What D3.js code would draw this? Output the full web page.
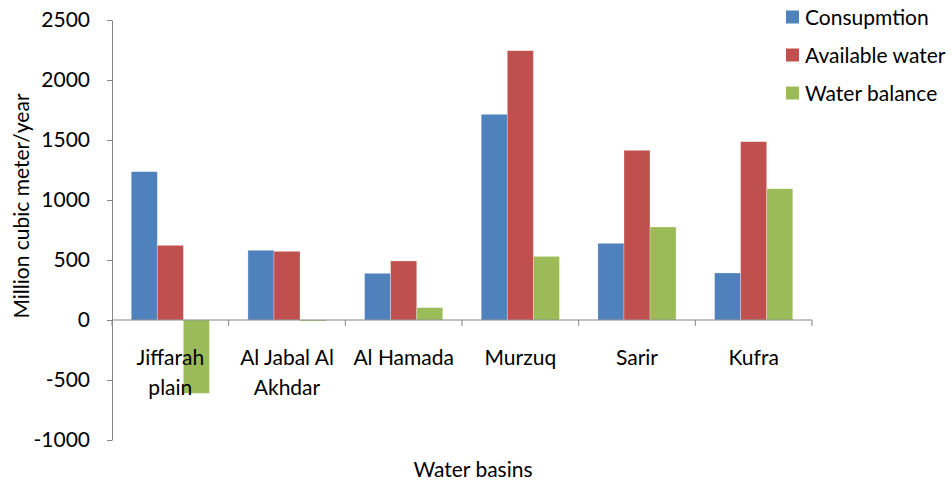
<!DOCTYPE html>
<html>
<head>
<meta charset="utf-8">
<script src="https://cdn.jsdelivr.net/npm/d3@7"></script>
<style>
  body { margin: 0; background: #fff; }
  text { font-family: Lato, "Open Sans", sans-serif; fill: #000; }
</style>
</head>
<body>
<div id="chart"></div>
<script>
const basins = ["Jiffarah plain", "Al Jabal Al Akhdar", "Al Hamada", "Murzuq", "Sarir", "Kufra"]
const basinLines = [["Jiffarah", "plain"], ["Al Jabal Al", "Akhdar"], ["Al Hamada"], ["Murzuq"], ["Sarir"], ["Kufra"]]
const seriesNames = ["Consupmtion", "Available water", "Water balance"]
const consumption = [1236, 581, 389, 1714, 639, 392]
const available = [622, 572, 492, 2244, 1414, 1486]
const balance = [-611, -9, 103, 530, 775, 1094]
const yTicks = [-1000, -500, 0, 500, 1000, 1500, 2000, 2500]
const colors = ["#4F81BD", "#C0504D", "#9BBB59"]

const width = 952
const height = 480
const margin = {top: 20, right: 140, bottom: 40, left: 112}
const fs = "21px"

const svg = d3.select("#chart")
  .append("svg")
  .attr("width", width)
  .attr("height", height)

const x = d3.scaleBand()
  .domain(basins)
  .range([margin.left, 812])

const inner = d3.scaleBand()
  .domain(seriesNames)
  .range([0, x.bandwidth() * 0.67])

const y = d3.scaleLinear()
  .domain([-1000, 2500])
  .range([440, 20])

const series = [consumption, available, balance]

// bars
series.forEach(function(vals, si) {
  svg.append("g")
    .selectAll("rect")
    .data(vals)
    .enter()
    .append("rect")
      .attr("x", function(d, i) { return x(basins[i]) + x.bandwidth() * 0.165 + inner(seriesNames[si]) })
      .attr("y", function(d) { return y(Math.max(0, d)) })
      .attr("width", inner.bandwidth())
      .attr("height", function(d) { return Math.abs(y(d) - y(0)) })
      .attr("fill", colors[si])
      .attr("stroke", "rgba(255,255,255,0.35)")
      .attr("stroke-width", 0.8)
})

// y axis
const yAxis = svg.append("g")
  .attr("transform", "translate(" + margin.left + ",0)")
  .call(d3.axisLeft(y).tickValues(yTicks).tickFormat(function(d) { return String(d) })
    .tickSize(5).tickPadding(17).tickSizeOuter(0))
yAxis.select(".domain").attr("stroke", "#868686")
yAxis.selectAll(".tick line").attr("stroke", "#868686")
yAxis.selectAll(".tick text")
  .style("font-size", fs)
  .style("font-family", "Lato, sans-serif")
  .attr("fill", "#000")

// x axis at zero
const boundaries = basins.map(function(b) { return x(b) }).concat([x.range()[1]])
const xAxis = svg.append("g")
xAxis.append("line")
  .attr("x1", x.range()[0]).attr("x2", x.range()[1])
  .attr("y1", y(0)).attr("y2", y(0))
  .attr("stroke", "#868686")
xAxis.selectAll(".tk")
  .data(boundaries)
  .enter()
  .append("line")
    .attr("x1", function(d) { return d }).attr("x2", function(d) { return d })
    .attr("y1", y(0)).attr("y2", y(0) + 6)
    .attr("stroke", "#868686")

// category labels
basinLines.forEach(function(lines, i) {
  const t = svg.append("text")
    .attr("x", x(basins[i]) + x.bandwidth() / 2)
    .attr("y", 365)
    .style("text-anchor", "middle")
    .style("font-size", fs)
  lines.forEach(function(l, j) {
    t.append("tspan")
      .attr("x", x(basins[i]) + x.bandwidth() / 2)
      .attr("dy", j === 0 ? 0 : 30)
      .text(l)
  })
})

// axis titles
svg.append("text")
  .attr("x", 473)
  .attr("y", 477)
  .style("text-anchor", "middle")
  .style("font-size", fs)
  .text("Water basins")

svg.append("text")
  .attr("transform", "translate(29,206) rotate(-90)")
  .style("text-anchor", "middle")
  .style("font-size", fs)
  .text("Million cubic meter/year")

// legend
const legend = svg.append("g")
  .selectAll("g")
  .data(seriesNames)
  .enter()
  .append("g")
    .attr("transform", function(d, i) { return "translate(786," + (17 + i * 38) + ")" })
legend.append("rect")
  .attr("x", 0).attr("y", -6.5)
  .attr("width", 13).attr("height", 13)
  .attr("fill", function(d, i) { return colors[i] })
legend.append("text")
  .attr("x", 19)
  .attr("y", 7.5)
  .style("font-size", fs)
  .text(function(d) { return d })
</script>
</body>
</html>
